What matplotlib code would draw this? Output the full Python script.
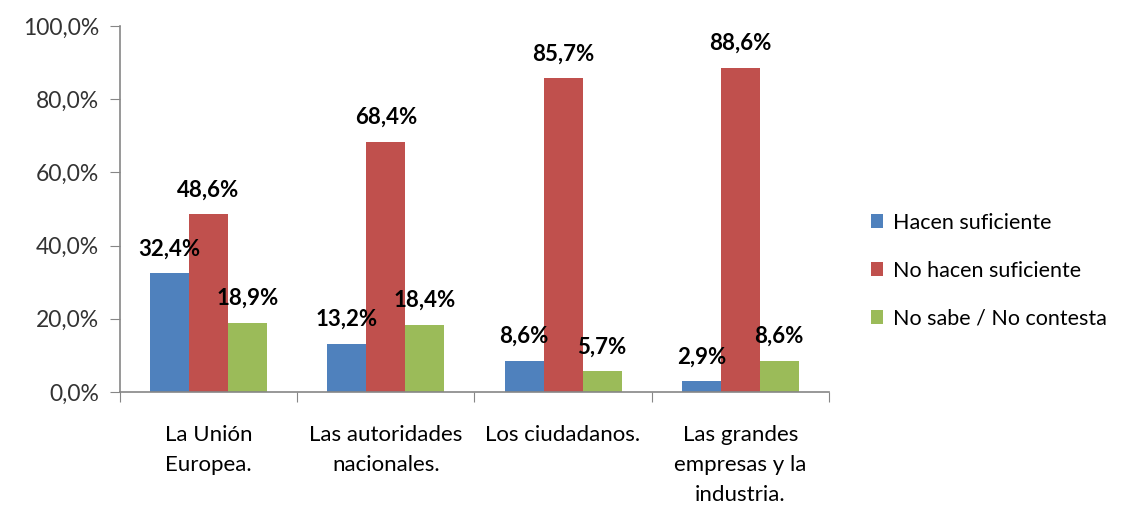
import matplotlib
matplotlib.use("Agg")
import matplotlib.pyplot as plt
import numpy as np
from matplotlib.ticker import FuncFormatter

plt.rcParams["font.family"] = ["Lato", "DejaVu Sans"]

categories = ["La Unión\nEuropea.", "Las autoridades\nnacionales.",
              "Los ciudadanos.", "Las grandes\nempresas y la\nindustria."]
series_names = ["Hacen suficiente", "No hacen suficiente", "No sabe / No contesta"]
hacen = [32.4, 13.2, 8.6, 2.9]
no_hacen = [48.6, 68.4, 85.7, 88.6]
no_sabe = [18.9, 18.4, 5.7, 8.6]

COLORS = ["#4F81BD", "#C0504D", "#9BBB59"]
AXIS_GRAY = "#868686"


def pct(v, decimals=1):
    return f"{v:.{decimals}f}%".replace(".", ",")


fig = plt.figure(figsize=(11.38, 5.09), dpi=100)
ax = fig.add_axes([0.1054, 0.2299, 0.623, 0.719])

x = np.arange(len(categories))
width = 0.22
for i, (vals, name) in enumerate(zip([hacen, no_hacen, no_sabe], series_names)):
    pos = x + (i - 1) * width
    ax.bar(pos, vals, width, color=COLORS[i], label=name, zorder=2)
    for px, v in zip(pos, vals):
        ax.annotate(pct(v), (px, v), xytext=(0, 10), textcoords="offset points",
                    ha="center", va="bottom", fontsize=16, fontweight="bold",
                    color="black")

ax.set_xlim(-0.5, len(categories) - 0.5)
ax.set_ylim(0, 100)
ax.set_yticks(np.arange(0, 101, 20))
ax.yaxis.set_major_formatter(FuncFormatter(lambda v, _: pct(v)))

# category separators as x ticks
ax.set_xticks(np.arange(-0.5, len(categories), 1.0))
ax.set_xticklabels([])
ax.set_xticks(x, minor=True)
ax.set_xticklabels(categories, minor=True, fontsize=16, linespacing=1.6, va="top")
ax.tick_params(axis="x", which="minor", length=0, pad=24)
ax.tick_params(axis="x", which="major", length=7, color=AXIS_GRAY, direction="out")
ax.tick_params(axis="y", length=7, color=AXIS_GRAY, labelsize=16.5, labelcolor="#333333", pad=8)

for side in ["top", "right"]:
    ax.spines[side].set_visible(False)
for side in ["left", "bottom"]:
    ax.spines[side].set_color(AXIS_GRAY)
    ax.spines[side].set_linewidth(1.2)

leg = fig.legend(loc="center left", bbox_to_anchor=(0.765, 0.468), frameon=False,
                 fontsize=15.5, handlelength=0.6, handleheight=0.6, handletextpad=0.45,
                 labelspacing=1.3, borderaxespad=0, borderpad=0)

fig.savefig("out.png", dpi=100)
